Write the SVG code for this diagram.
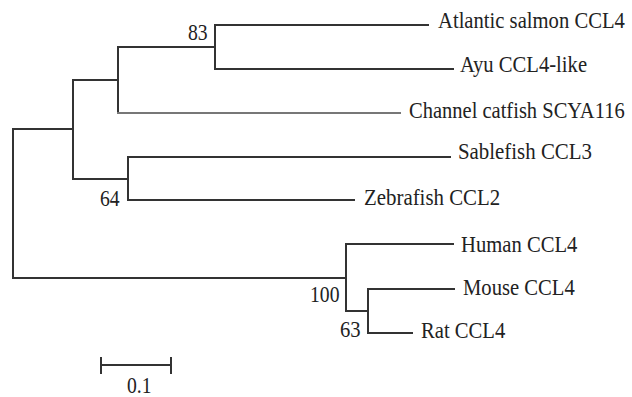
<svg xmlns="http://www.w3.org/2000/svg" width="632" height="397" viewBox="0 0 632 397">
  <style>
    .br { fill: none; stroke: #333333; stroke-width: 2; stroke-linecap: square; }
    .br-light { fill: none; stroke: #777777; stroke-width: 2; stroke-linecap: square; }
  </style>
  <rect width="632" height="397" fill="#ffffff"/>

  <!-- tree branches -->
  <g id="connectors">
    <!-- root -->
    <path class="br" d="M13,129 V278"/>
    <path class="br" d="M13,129 H73"/>
    <path class="br" d="M13,278 H346"/>
    <!-- fish clade -->
    <path class="br" d="M73,80 V179"/>
    <path class="br" d="M73,80 H118"/>
    <path class="br" d="M118,47 V113"/>
    <path class="br" d="M118,47 H215"/>
    <path class="br" d="M215,25 V69"/>
    <path class="br" d="M215,25 H428"/>
    <path class="br" d="M215,69 H453"/>
    <path class="br-light" d="M118,113 H400"/>
    <path class="br" d="M73,179 H128"/>
    <path class="br" d="M128,157 V200"/>
    <path class="br" d="M128,157 H450"/>
    <path class="br" d="M128,200 H354"/>
    <!-- mammal clade -->
    <path class="br" d="M346,244 V311"/>
    <path class="br" d="M346,244 H453"/>
    <path class="br" d="M346,311 H368"/>
    <path class="br" d="M368,289 V333"/>
    <path class="br" d="M368,289 H454"/>
    <path class="br" d="M368,333 H412"/>
  </g>

  <!-- labels: narrow serif, set by a horizontal squeeze of 0.86 -->
  <g font-family="Liberation Serif, Times New Roman, serif" font-size="24" fill="#222222">
    <!-- leaves -->
    <g id="atlantic-salmon"><text transform="translate(438,28) scale(0.86,1)">Atlantic salmon CCL4</text></g>
    <g id="ayu"><text transform="translate(460,72) scale(0.86,1)">Ayu CCL4-like</text></g>
    <g id="channel-catfish"><text transform="translate(409,118) scale(0.855,1)">Channel catfish SCYA116</text></g>
    <g id="sablefish"><text transform="translate(458,159) scale(0.87,1)">Sablefish CCL3</text></g>
    <g id="zebrafish"><text transform="translate(364,205) scale(0.87,1)">Zebrafish CCL2</text></g>
    <g id="human"><text transform="translate(461,252) scale(0.86,1)">Human CCL4</text></g>
    <g id="mouse"><text transform="translate(463,295) scale(0.86,1)">Mouse CCL4</text></g>
    <g id="rat"><text transform="translate(421,338) scale(0.86,1)">Rat CCL4</text></g>

    <!-- bootstrap values -->
    <g id="bootstrap">
      <text transform="translate(188,40) scale(0.82,1)">83</text>
      <text transform="translate(100,206) scale(0.82,1)">64</text>
      <text transform="translate(310,302) scale(0.82,1)">100</text>
      <text transform="translate(340,337) scale(0.86,1)">63</text>
    </g>

    <!-- scale bar label -->
    <text id="scale-label" transform="translate(127,393) scale(0.82,1)">0.1</text>
  </g>

  <!-- scale bar -->
  <g id="scale-bar">
    <path class="br" d="M101,365 H171 M101,358 V373 M171,358 V373"/>
  </g>
</svg>
